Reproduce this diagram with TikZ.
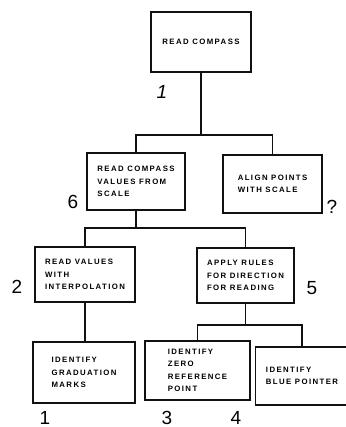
\documentclass[tikz,border=0pt]{standalone}
\usepackage{fontspec}
\usetikzlibrary{positioning,calc}
\newfontfamily\boxfont[LetterSpace=18]{Liberation Sans}
\newfontfamily\numfont{Liberation Sans}
\definecolor{inkline}{HTML}{111111}
\begin{document}
\begin{tikzpicture}[x=1pt,y=-1pt,
 taskbox/.style={draw=inkline,line width=1.4pt,fill=white,inner sep=0pt,align=left,
   font=\boxfont\bfseries\fontsize{7.8}{12.3}\selectfont},
 link/.style={draw=inkline,line width=1.4pt},
 stepnum/.style={font=\numfont\fontsize{19}{19}\selectfont,inner sep=0pt}]
\useasboundingbox (0,0) rectangle (345,427);

% Task boxes, placed at the centres measured on the chart.
\node[taskbox,minimum width=100pt,minimum height=60pt] (compass) at (201,42) {READ COMPASS};
\node[taskbox,minimum width=98pt,minimum height=57pt] (values) at (136,181.5) {READ COMPASS\\VALUES FROM\\SCALE};
\node[taskbox,minimum width=99pt,minimum height=58pt] (align) at (272.5,184) {ALIGN POINTS\\WITH SCALE};
\node[taskbox,minimum width=100pt,minimum height=55pt] (interp) at (85,274.5) {READ VALUES\\WITH\\INTERPOLATION};
\node[taskbox,minimum width=97pt,minimum height=55pt] (rules) at (245.5,275.5) {APPLY RULES\\FOR DIRECTION\\FOR READING};
\node[taskbox,minimum width=102pt,minimum height=61pt] (marks) at (84,372.5) {IDENTIFY\\GRADUATION\\MARKS};
\node[taskbox,minimum width=105pt,minimum height=59pt] (zero) at (197.5,370.5) {IDENTIFY\\ZERO\\REFERENCE\\POINT};
\node[taskbox,minimum width=93pt,minimum height=58pt] (pointer) at (302,376) {IDENTIFY\\BLUE POINTER};

% Branch points of the tree.
\coordinate (fork1) at (201,135);
\coordinate (fork2) at (136,228);
\coordinate (fork3) at (245.5,325);

\draw[link] (compass.south) -- (fork1);
\draw[link] (values.north) |- (fork1) -| (align.north);
\draw[link] (values.south) -- (fork2);
\draw[link] (interp.north) |- (fork2) -| (rules.north);
\draw[link] (interp.south) -- (interp.south |- marks.north);
\draw[link] (rules.south) -- (fork3);
\draw[link] (zero.north) |- (fork3) -| (pointer.north);

% Step numbers.
\node[stepnum,font=\numfont\itshape\fontsize{19}{19}\selectfont] (n1) at (162,92) {1};
\node[stepnum] (n6) at (73,202) {6};
\node[stepnum] (n7) at (332,207) {?};
\node[stepnum] (n2) at (17,287) {2};
\node[stepnum] (n5) at (312,288) {5};
\node[stepnum] (n1b) at (45,418) {1};
\node[stepnum] (n3) at (167,418) {3};
\node[stepnum] (n4) at (236,418) {4};
\end{tikzpicture}
\end{document}
